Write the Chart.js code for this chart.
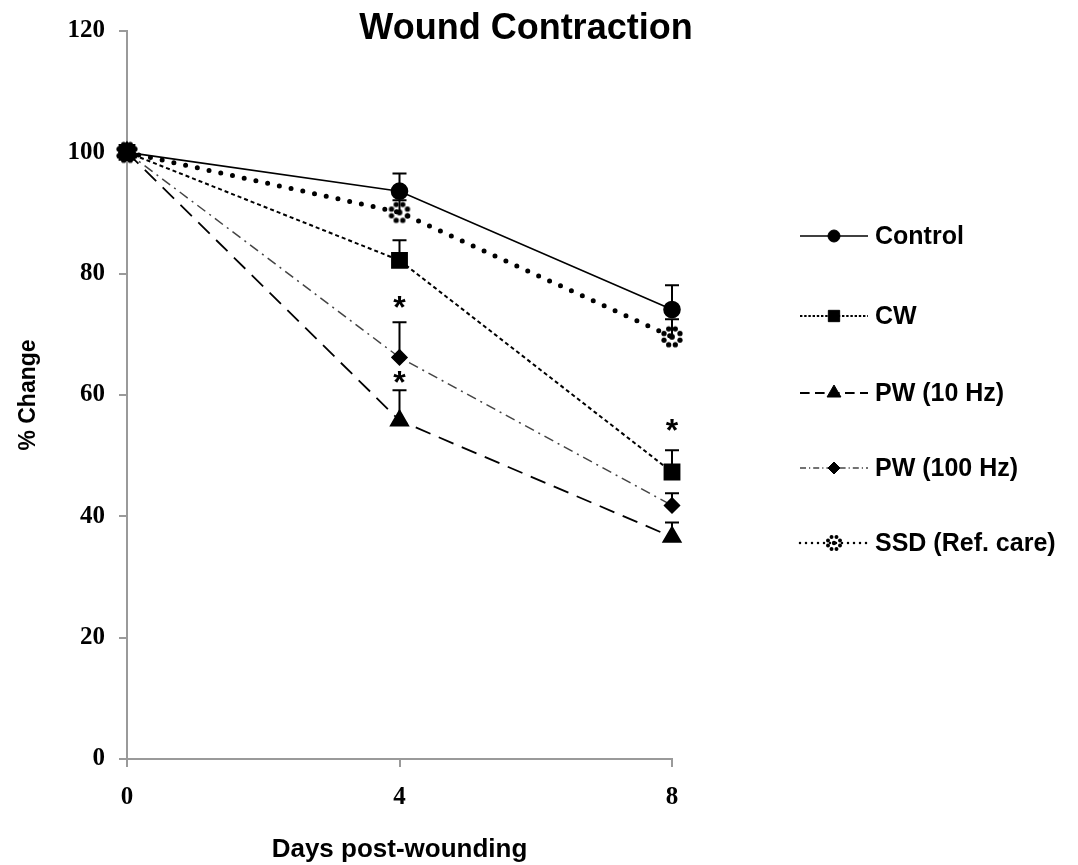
<!DOCTYPE html>
<html>
<head>
<meta charset="utf-8">
<title>Wound Contraction</title>
<script src="https://cdn.jsdelivr.net/npm/chart.js@4.4.1/dist/chart.umd.min.js"></script>
<style>
  html, body { margin: 0; padding: 0; background: #fff; }
  #wrap { position: relative; width: 1078px; height: 865px; }
</style>
</head>
<body>
<div id="wrap"><canvas id="woundChart"></canvas></div>
<script>
// data
const days = [0, 4, 8];
const yTicks = [0, 20, 40, 60, 80, 100, 120];

const controlMean = [100, 93.6, 74.1];
const controlErr = [0, 2.9, 4.0];
const cwMean = [100, 82.2, 47.3];
const cwErr = [0, 3.3, 3.6];
const pw10Mean = [100, 55.8, 36.6];
const pw10Err = [0, 5.0, 2.4];
const pw100Mean = [100, 66.2, 41.8];
const pw100Err = [0, 5.8, 2.0];
const ssdMean = [100, 90.1, 69.6];
const ssdErr = [0, 2.0, 2.9];

const seriesNames = ['Control', 'CW', 'PW (10 Hz)', 'PW (100 Hz)', 'SSD (Ref. care)'];

// significance marks (*)
const sigDays = [4, 4, 8];
const sigValues = [75.1, 62.8, 54.9];

const ink = '#000';
const axisGrey = '#9a9a9a';

// dotted "sunburst" marker used by SSD
const makeSsdMarker = (size) => {
    const c = document.createElement('canvas');
    c.width = size; c.height = size;
    const g = c.getContext('2d');
    g.fillStyle = ink;
    const mid = size / 2, r = size * 0.36, dot = size * 0.11;
    for (let i = 0; i < 8; i++) {
        const a = i * Math.PI / 4 + Math.PI / 8;
        g.beginPath();
        g.arc(mid + Math.cos(a) * r, mid + Math.sin(a) * r, dot, 0, Math.PI * 2);
        g.fill();
    }
    g.beginPath();
    g.arc(mid, mid, dot * 1.1, 0, Math.PI * 2);
    g.fill();
    return c;
};
const ssdMarker = makeSsdMarker(24);
const ssdMarkerSmall = makeSsdMarker(18);

const toPoints = (vals) => vals.map((v, i) => ({ x: days[i], y: v }));

const datasets = [
    { label: seriesNames[0], data: toPoints(controlMean), err: controlErr,
      borderColor: ink, backgroundColor: ink, borderWidth: 1.6, borderDash: [],
      pointStyle: 'circle', pointRadius: 8, legendRadius: 6 },
    { label: seriesNames[1], data: toPoints(cwMean), err: cwErr,
      borderColor: ink, backgroundColor: ink, borderWidth: 2, borderDash: [4, 3],
      pointStyle: 'rect', pointRadius: 10.5, legendRadius: 8 },
    { label: seriesNames[2], data: toPoints(pw10Mean), err: pw10Err,
      borderColor: ink, backgroundColor: ink, borderWidth: 1.8, borderDash: [16, 9],
      pointStyle: 'triangle', pointRadius: 10, legendRadius: 8 },
    { label: seriesNames[3], data: toPoints(pw100Mean), err: pw100Err,
      borderColor: '#444', backgroundColor: ink, borderWidth: 1.5, borderDash: [10, 5, 2, 5],
      pointBorderColor: ink, pointStyle: 'rectRot', pointRadius: 7.5, legendRadius: 6 },
    { label: seriesNames[4], data: toPoints(ssdMean), err: ssdErr,
      borderColor: ink, backgroundColor: ink, borderWidth: 5, borderDash: [0, 12],
      borderCapStyle: 'round', pointStyle: ssdMarker, pointRadius: 12, legendMarker: ssdMarkerSmall }
];

// upward error bars with caps
const errorBars = {
    id: 'errorBars',
    afterDatasetsDraw(chart) {
        const { ctx, scales: { x, y } } = chart;
        ctx.save();
        ctx.strokeStyle = ink;
        ctx.lineWidth = 2;
        ctx.setLineDash([]);
        chart.data.datasets.forEach(ds => {
            ds.data.forEach((p, i) => {
                const e = ds.err[i];
                if (!e) return;
                const px = x.getPixelForValue(p.x);
                const y0 = y.getPixelForValue(p.y);
                const y1 = y.getPixelForValue(p.y + e);
                ctx.beginPath();
                ctx.moveTo(px, y0);
                ctx.lineTo(px, y1);
                ctx.moveTo(px - 7, y1);
                ctx.lineTo(px + 7, y1);
                ctx.stroke();
            });
        });
        ctx.restore();
    }
};

// asterisks, chart title and the legend on the right
const annotations = {
    id: 'annotations',
    afterDraw(chart) {
        const { ctx, scales: { x, y } } = chart;
        ctx.save();
        ctx.fillStyle = ink;

        ctx.font = 'bold 32px "Liberation Sans", Arial, sans-serif';
        ctx.textAlign = 'center';
        ctx.textBaseline = 'middle';
        sigDays.forEach((d, i) => {
            ctx.fillText('*', x.getPixelForValue(d), y.getPixelForValue(sigValues[i]) + 6);
        });

        ctx.font = 'bold 36px "Liberation Sans", Arial, sans-serif';
        ctx.fillText('Wound Contraction', 526, 29);

        const lx0 = 800, lx1 = 868, mx = 834, tx = 875;
        const rowY = [236, 316, 393, 468, 543];
        chart.data.datasets.forEach((ds, i) => {
            const yy = rowY[i];
            ctx.strokeStyle = ds.borderColor;
            ctx.lineWidth = Math.min(ds.borderWidth, 2.5);
            ctx.lineCap = ds.borderCapStyle || 'butt';
            ctx.setLineDash(ds.borderCapStyle === 'round' ? [0, 6] : ds.borderDash.map(v => v * 0.6));
            ctx.beginPath();
            ctx.moveTo(lx0, yy);
            ctx.lineTo(lx1, yy);
            ctx.stroke();
            ctx.setLineDash([]);
            if (ds.legendMarker) {
                ctx.drawImage(ds.legendMarker, mx - 9, yy - 9);
            } else {
                ctx.fillStyle = ink;
                ctx.strokeStyle = ink;
                ctx.lineWidth = 1;
                Chart.helpers.drawPoint(ctx, { pointStyle: ds.pointStyle, radius: ds.legendRadius, rotation: 0, borderWidth: 1 }, mx, yy);
            }
            ctx.fillStyle = ink;
            ctx.font = 'bold 25px "Liberation Sans", Arial, sans-serif';
            ctx.textAlign = 'left';
            ctx.textBaseline = 'middle';
            ctx.fillText(ds.label, tx, yy + 1);
        });
        ctx.restore();
    }
};

const ctx = document.getElementById('woundChart');
new Chart(ctx, {
    type: 'line',
    data: { datasets },
    options: {
        responsive: true,
        maintainAspectRatio: false,
        animation: false,
        clip: false,
        layout: { padding: { top: 31, right: 406, left: 0, bottom: 0 } },
        elements: {
            line: { tension: 0, fill: false },
            point: { borderWidth: 1, hoverRadius: 8 }
        },
        plugins: {
            legend: { display: false },
            title: { display: false },
            tooltip: { enabled: false }
        },
        scales: {
            x: {
                type: 'linear',
                min: 0, max: 8,
                afterBuildTicks: s => { s.ticks = days.map(v => ({ value: v })); },
                afterFit: s => { s.height = 106; },
                grid: { drawOnChartArea: false, tickLength: 8, color: axisGrey, lineWidth: 2 },
                border: { color: axisGrey, width: 2 },
                ticks: {
                    color: ink, padding: 16,
                    font: { family: '"Liberation Serif", "Times New Roman", serif', size: 25, weight: 'bold', lineHeight: 1.2 }
                },
                title: {
                    display: true, text: 'Days post-wounding', color: ink,
                    padding: { top: 0, bottom: 0 },
                    font: { family: '"Liberation Sans", Arial, sans-serif', size: 26, weight: 'bold', lineHeight: 1.2 }
                }
            },
            y: {
                min: 0, max: 120,
                afterBuildTicks: s => { s.ticks = yTicks.map(v => ({ value: v })); },
                afterFit: s => { s.width = 127; },
                grid: { drawOnChartArea: false, tickLength: 8, color: axisGrey, lineWidth: 2 },
                border: { color: axisGrey, width: 2 },
                ticks: {
                    color: ink, padding: 14,
                    font: { family: '"Liberation Serif", "Times New Roman", serif', size: 25, weight: 'bold', lineHeight: 1.2 }
                },
                title: {
                    display: true, text: '% Change', color: ink,
                    padding: { top: 15, bottom: 0 },
                    font: { family: '"Liberation Sans", Arial, sans-serif', size: 23, weight: 'bold', lineHeight: 1.2 }
                }
            }
        }
    },
    plugins: [errorBars, annotations]
});
</script>
</body>
</html>
